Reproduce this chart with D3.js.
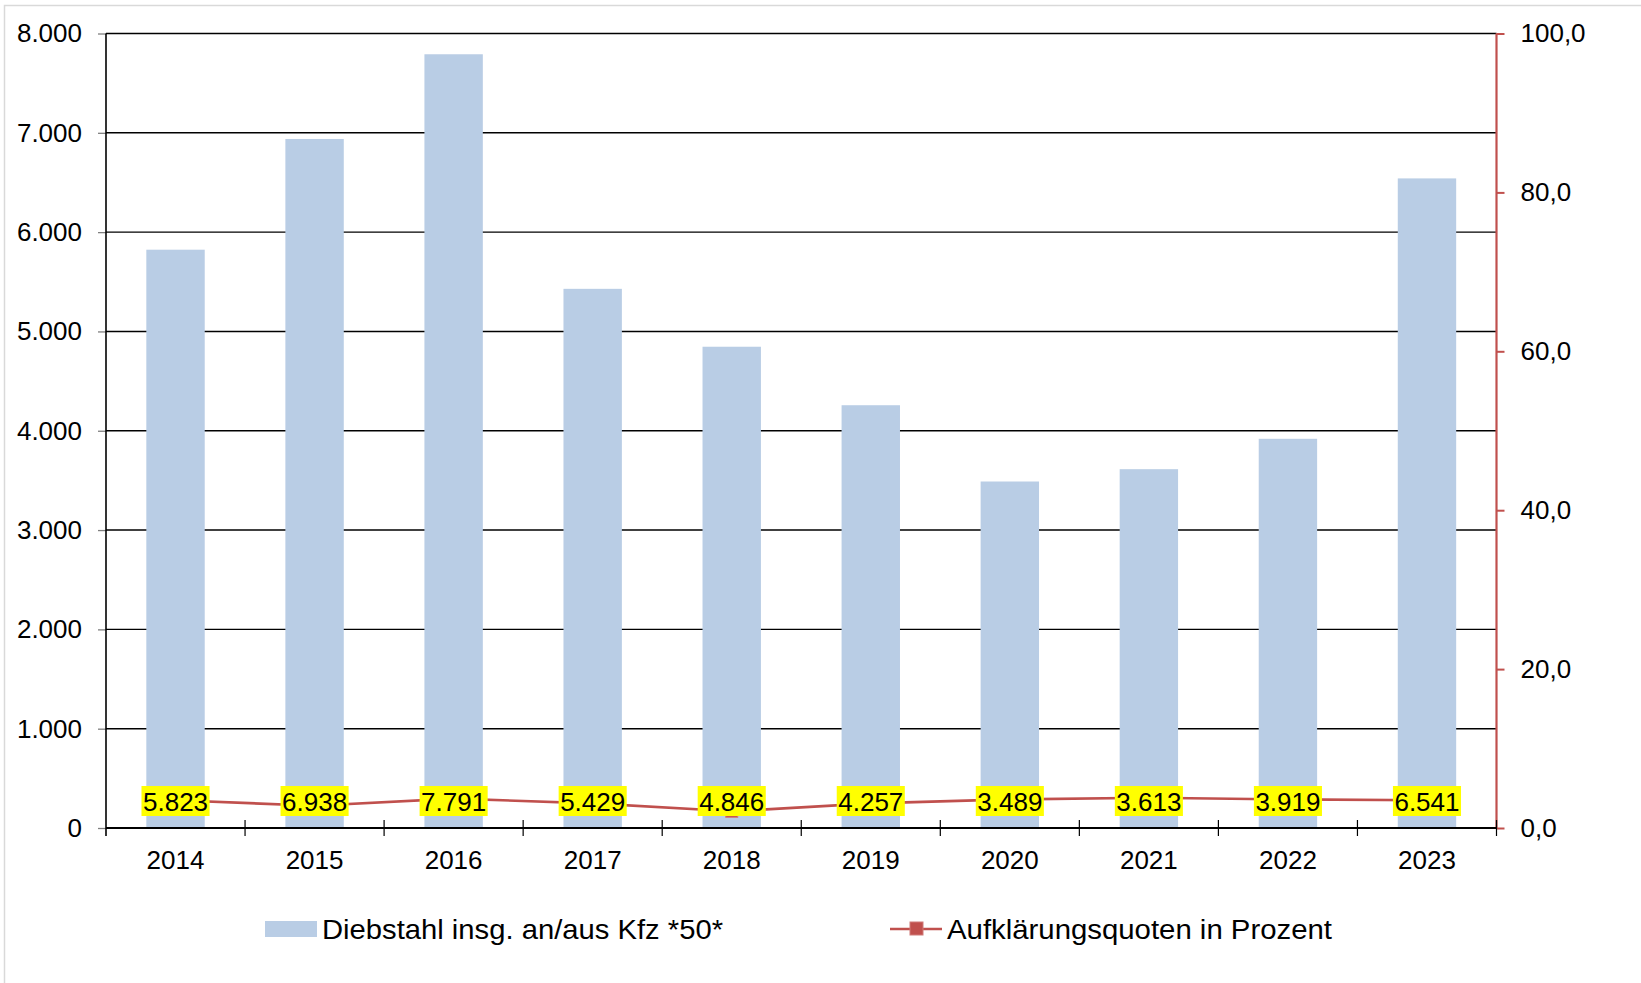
<!DOCTYPE html>
<html>
<head>
<meta charset="utf-8">
<script src="https://cdn.jsdelivr.net/npm/d3@7"></script>
<style>
  html, body { margin: 0; padding: 0; background: #fff; }
  svg { display: block; font-family: "Liberation Sans", Arial, sans-serif; }
</style>
</head>
<body>
<svg id="chart" width="1641" height="983"></svg>
<script>
// Jahre, Fallzahlen (Diebstahl an/aus Kfz) und Aufklärungsquoten
const years = ["2014", "2015", "2016", "2017", "2018", "2019", "2020", "2021", "2022", "2023"];
const theftCounts = [5823, 6938, 7791, 5429, 4846, 4257, 3489, 3613, 3919, 6541];
const clearanceRates = [3.5, 2.8, 3.7, 3.1, 2.1, 3.1, 3.6, 3.8, 3.6, 3.5];
const leftTicks = [0, 1000, 2000, 3000, 4000, 5000, 6000, 7000, 8000];
const rightTicks = [0, 20, 40, 60, 80, 100];
const legendLabels = ["Diebstahl insg. an/aus Kfz *50*", "Aufklärungsquoten in Prozent"];

const de = d3.formatLocale({ decimal: ",", thousands: ".", grouping: [3], currency: ["", " €"] });
const fmtCount = de.format(",.0f");
const fmtRate = de.format(".1f");

const svg = d3.select("#chart");
const FONT = 26;
const BAR = "#B9CDE5", RED = "#C0504D";

const plot = { left: 106, right: 1496.5, top: 33.5, bottom: 828 };

// Rahmen des Diagrammbereichs
svg.append("rect")
  .attr("x", 4.5).attr("y", 5.5).attr("width", 1700).attr("height", 1100)
  .attr("fill", "none").attr("stroke", "#D9D9D9").attr("stroke-width", 1.5);

const x = d3.scaleBand().domain(years).range([plot.left, plot.right]).paddingInner(0.58).paddingOuter(0.29);
const xBand = d3.scaleBand().domain(years).range([plot.left, plot.right]);
const yL = d3.scaleLinear().domain([0, 8000]).range([plot.bottom, plot.top]);
const yR = d3.scaleLinear().domain([0, 100]).range([plot.bottom, plot.top]);

// Gitternetzlinien
svg.append("g").selectAll("line").data(leftTicks.filter(d => d > 0)).join("line")
  .attr("x1", plot.left).attr("x2", plot.right)
  .attr("y1", d => yL(d)).attr("y2", d => yL(d))
  .attr("stroke", "#000").attr("stroke-width", 1.4);

// Säulen
svg.append("g").selectAll("rect").data(years).join("rect")
  .attr("x", (d) => x(d))
  .attr("width", x.bandwidth())
  .attr("y", (d, i) => yL(theftCounts[i]))
  .attr("height", (d, i) => plot.bottom - yL(theftCounts[i]))
  .attr("fill", BAR);

// Linke Achse
const gL = svg.append("g").attr("transform", `translate(${plot.left},0)`)
  .call(d3.axisLeft(yL).tickValues(leftTicks).tickFormat(fmtCount).tickSize(8).tickPadding(16));
gL.select(".domain").remove();
gL.selectAll(".tick line").attr("stroke", "#7F7F7F").attr("stroke-width", 1.3);
gL.selectAll(".tick text").attr("font-size", FONT).attr("fill", "#000").attr("font-family", "Liberation Sans, Arial, sans-serif");
svg.append("line").attr("x1", plot.left).attr("x2", plot.left)
  .attr("y1", plot.top).attr("y2", plot.bottom + 8)
  .attr("stroke", "#000").attr("stroke-width", 1.6);

// Rechte Achse
const gR = svg.append("g").attr("transform", `translate(${plot.right},0)`)
  .call(d3.axisRight(yR).tickValues(rightTicks).tickFormat(fmtRate).tickSize(8).tickPadding(16));
gR.select(".domain").remove();
gR.selectAll(".tick line").attr("stroke", RED).attr("stroke-width", 2);
gR.selectAll(".tick text").attr("font-size", FONT).attr("fill", "#000").attr("font-family", "Liberation Sans, Arial, sans-serif");
svg.append("line").attr("x1", plot.right).attr("x2", plot.right)
  .attr("y1", plot.top).attr("y2", plot.bottom)
  .attr("stroke", RED).attr("stroke-width", 2.2);

// Untere Achse mit Trennstrichen zwischen den Kategorien
svg.append("line").attr("x1", plot.left).attr("x2", plot.right)
  .attr("y1", plot.bottom).attr("y2", plot.bottom)
  .attr("stroke", "#000").attr("stroke-width", 1.8);
svg.append("g").selectAll("line").data(years.slice(1).concat(["end"])).join("line")
  .attr("x1", d => d === "end" ? plot.right : xBand(d))
  .attr("x2", d => d === "end" ? plot.right : xBand(d))
  .attr("y1", plot.bottom - 8).attr("y2", plot.bottom + 8)
  .attr("stroke", "#000").attr("stroke-width", 1.2);
svg.append("g").selectAll("text").data(years).join("text")
  .attr("x", d => xBand(d) + xBand.bandwidth() / 2)
  .attr("y", 869)
  .attr("text-anchor", "middle").attr("font-size", FONT).attr("fill", "#000")
  .text(d => d);

// Linie der Aufklärungsquoten
const cx = d => xBand(d) + xBand.bandwidth() / 2;
const line = d3.line().x((d, i) => cx(years[i])).y(d => yR(d));
svg.append("path").datum(clearanceRates)
  .attr("d", line).attr("fill", "none").attr("stroke", RED).attr("stroke-width", 2.6);
svg.append("g").selectAll("rect").data(clearanceRates).join("rect")
  .attr("x", (d, i) => cx(years[i]) - 6).attr("y", d => yR(d) - 6)
  .attr("width", 12).attr("height", 12)
  .attr("fill", RED).attr("stroke", "#D07A78").attr("stroke-width", 1);

// Datenbeschriftungen der Säulen (Innerhalb, Basis)
const labels = svg.append("g");
years.forEach((yr, i) => {
  const lx = cx(yr), ly = plot.bottom - 27;
  const t = labels.append("text")
    .attr("x", lx).attr("y", ly + 9.5)
    .attr("text-anchor", "middle").attr("font-size", FONT).attr("fill", "#000")
    .text(fmtCount(theftCounts[i]));
  const w = t.node().getComputedTextLength();
  labels.insert("rect", "text")
    .attr("x", lx - w / 2 - 1.5).attr("y", ly - 15)
    .attr("width", w + 3).attr("height", 30)
    .attr("fill", "#FFFF00");
});

// Legende
const lg = svg.append("g");
lg.append("rect").attr("x", 265).attr("y", 921).attr("width", 52).attr("height", 16).attr("fill", BAR);
lg.append("text").attr("x", 322).attr("y", 939).attr("font-size", 27.5).attr("fill", "#000")
  .attr("textLength", 401).attr("lengthAdjust", "spacingAndGlyphs").text(legendLabels[0]);
lg.append("line").attr("x1", 890).attr("x2", 942).attr("y1", 929).attr("y2", 929).attr("stroke", RED).attr("stroke-width", 2.6);
lg.append("rect").attr("x", 910).attr("y", 922).attr("width", 13).attr("height", 13).attr("fill", RED).attr("stroke", "#D07A78").attr("stroke-width", 1);
lg.append("text").attr("x", 947).attr("y", 939).attr("font-size", 27.5).attr("fill", "#000")
  .attr("textLength", 385).attr("lengthAdjust", "spacingAndGlyphs").text(legendLabels[1]);
</script>
</body>
</html>
